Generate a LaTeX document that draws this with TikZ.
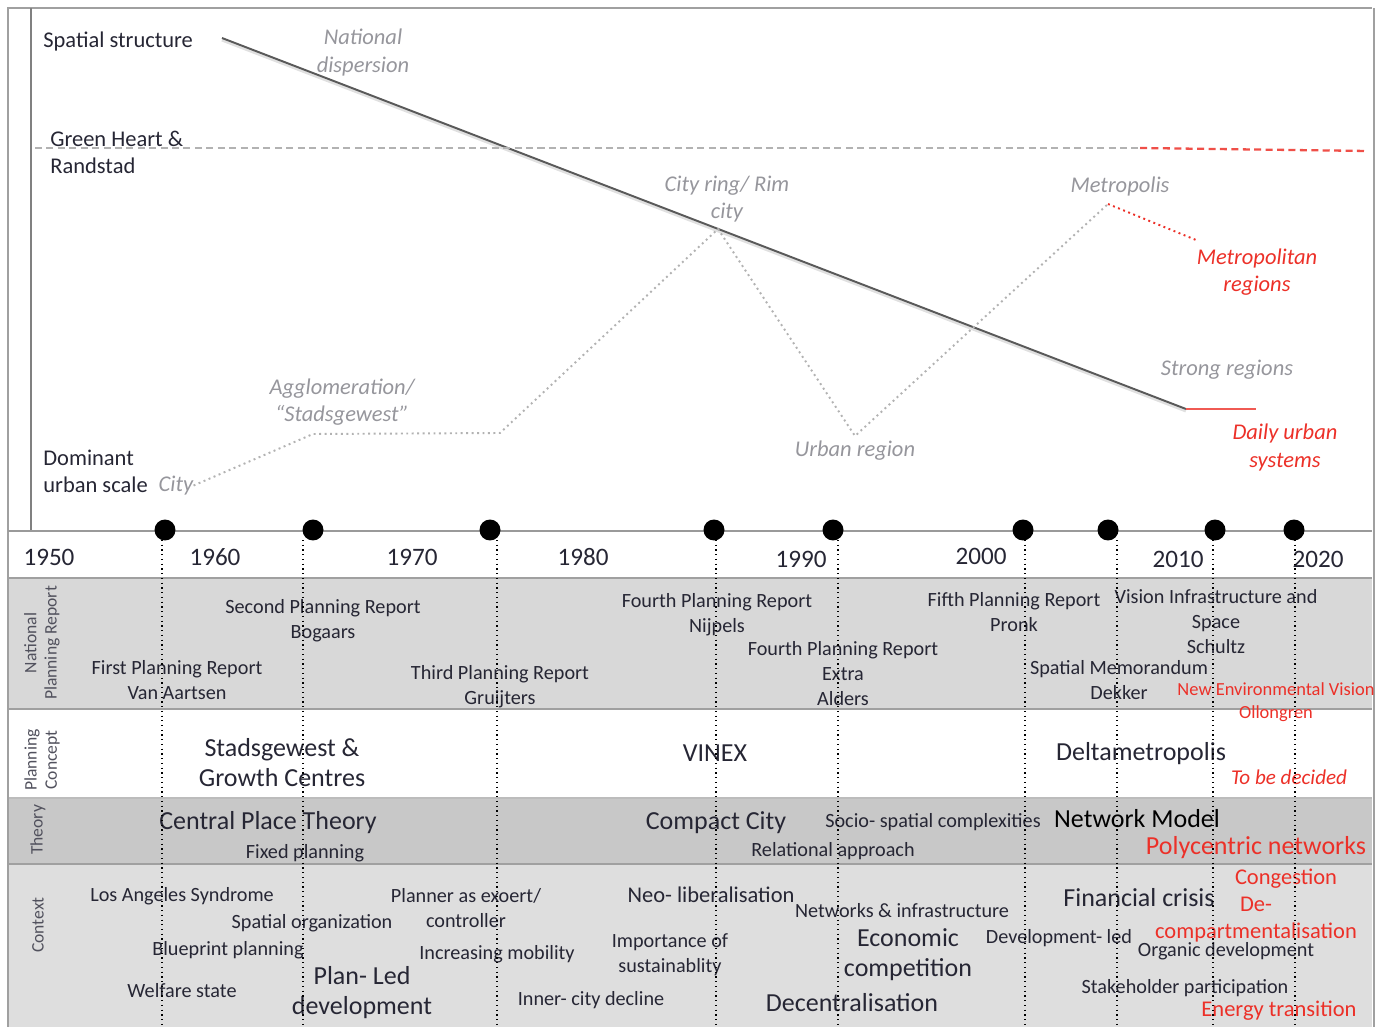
\documentclass[tikz,border=0pt]{standalone}
\usepackage{fontspec}
\setmainfont{Carlito}
\usetikzlibrary{positioning}
\definecolor{txt}{RGB}{38,38,52}
\definecolor{lgray}{RGB}{150,150,156}
\definecolor{rtxt}{RGB}{236,48,40}
\definecolor{bandA}{RGB}{216,216,216}
\definecolor{bandB}{RGB}{200,200,200}
\definecolor{bandC}{RGB}{222,222,222}
\definecolor{edge}{RGB}{160,160,160}
\definecolor{axis}{RGB}{128,128,128}

\begin{document}
\begin{tikzpicture}[x=0.02cm, y=-0.02cm,
    sm/.style = {text=txt, font=\fontsize{11.5}{14.2}\selectfont, align=center, inner sep=0pt, yshift=-0.05cm},
    md/.style = {text=txt, font=\fontsize{12.8}{15.4}\selectfont, align=center, inner sep=0pt, yshift=-0.05cm},
    bg/.style = {text=txt, font=\fontsize{14.8}{17}\selectfont, align=center, inner sep=0pt, yshift=-0.05cm},
    it/.style = {text=lgray, font=\fontsize{12.8}{15.4}\selectfont\itshape, align=center, inner sep=0pt, yshift=-0.05cm},
    rd/.style = {text=rtxt},
    yr/.style = {text=txt, font=\fontsize{14.3}{16}\selectfont, inner sep=0pt},
    side/.style = {text=txt!80, font=\fontsize{10}{11.5}\selectfont, align=center, rotate=90, inner sep=0pt},
    dot/.style = {circle, fill=black, minimum size=0.42cm, inner sep=0pt},
    tl/.style = {black, dotted, line width=0.7pt},
    trend/.style = {draw=black!65, line width=1.1pt},
    scale line/.style = {draw=black!30, dotted, line width=1.1pt}]

    \useasboundingbox (0,0) rectangle (1387,1027);

    % bands
    \fill[bandA] (8,578) rectangle (1372,708);
    \fill[bandB] (8,798) rectangle (1372,863);
    \fill[bandC] (8,865) rectangle (1372,1027);
    \draw[edge, line width=1pt] (8,578) -- (1372,578);
    \draw[edge, line width=1.2pt] (8,709) -- (1372,709);
    \draw[edge!70, line width=0.6pt] (8,798) -- (1372,798);
    \draw[edge, line width=1.2pt] (8,864) -- (1372,864);

    % frame and axes
    \draw[edge, line width=0.8pt] (8,1027) -- (8,8) -- (1372,8);
    \draw[edge, line width=1.6pt] (1374,8) -- (1374,1027);
    \draw[axis, line width=1.2pt] (31,8) -- (31,530);
    \draw[axis!80, line width=1.6pt] (8,531) -- (1372,531);

    % chart labels
    \node[md, anchor=west] (sps) at (43,39) {Spatial structure};
    \node[md, anchor=west, align=left] (ghr) at (50,150) {Green Heart \&\\Randstad};
    \node[md, anchor=west, align=left] (dom) at (43,469) {Dominant\\urban scale};
    \node[it] (natd) at (363,50) {National\\dispersion};
    \node[it] (crr) at (727,197) {City ring/ Rim\\city};
    \node[it] (metro) at (1120,184) {Metropolis};
    \node[it, rd] (metreg) at (1257,270) {Metropolitan\\regions};
    \node[it] (strong) at (1227,367) {Strong regions};
    \node[it, rd] (daily) at (1285,445) {Daily urban\\systems};
    \node[it] (urb) at (855,448) {Urban region};
    \node[it] (agg) at (342,400) {Agglomeration/\\“Stadsgewest”};
    \node[it] (city) at (176,483) {City};

    % spatial structure trend
    \coordinate (s0) at (222,38);
    \coordinate (s1) at (1186,409);
    \coordinate (s2) at (1256,409);
    \draw[black!12, line width=2pt] ([yshift=-1pt]s0) -- ([yshift=-1pt]s1);
    \draw[trend] (s0) -- (s1);
    \draw[rtxt!80, line width=1.6pt] (s1) -- (s2);

    \coordinate (g0) at (35,148);
    \coordinate (g1) at (1140,148);
    \coordinate (g2) at (1368,151);
    \draw[black!30, dash pattern=on 4pt off 2.5pt, line width=1.3pt] (g0) -- (g1);
    \draw[rtxt!85, dash pattern=on 4pt off 2.5pt, line width=1.3pt] (g1) -- (g2);

    % dominant urban scale
    \coordinate (u1) at (313,434);
    \coordinate (u2) at (500,433);
    \coordinate (u3) at (718,229);
    \coordinate (u4) at (855,436);
    \coordinate (u5) at (1108,204);
    \coordinate (u6) at (1196,240);
    \draw[scale line] (city.east) -- (u1) -- (u2) -- (u3) -- (u4) -- (u5);
    \draw[scale line, draw=rtxt] (u5) -- (u6);

    % years
    \node[yr] (y1950) at (49,557) {1950};
    \node[yr] (y1960) at (215,557) {1960};
    \node[yr] (y1970) at (412,557) {1970};
    \node[yr] (y1980) at (583,557) {1980};
    \node[yr] (y1990) at (801,559) {1990};
    \node[yr] (y2000) at (981,556) {2000};
    \node[yr] (y2010) at (1178,559) {2010};
    \node[yr] (y2020) at (1318,559) {2020};

    % row labels
    \node[side] (lnpr) at (42,643) {National\\Planning Report};
    \node[side] (lcon) at (42,760) {Planning\\Concept};
    \node[side] (lthe) at (38,830) {Theory};
    \node[side] (lctx) at (38,925) {Context};

    % national planning reports
    \node[sm] (npr1) at (177,678) {First Planning Report\\Van Aartsen};
    \node[sm] (npr2) at (323,618) {Second Planning Report\\Bogaars};
    \node[sm] (npr3) at (500,684) {Third Planning Report\\Gruijters};
    \node[sm] (npr4) at (717,612) {Fourth Planning Report\\Nijpels};
    \node[sm] (npr4x) at (843,671) {Fourth Planning Report\\Extra\\Alders};
    \node[sm] (npr5) at (1014,610) {Fifth Planning Report\\Pronk};
    \node[sm] (vis) at (1216,619) {Vision Infrastructure and\\Space\\Schultz};
    \node[sm] (mem) at (1119,678) {Spatial Memorandum\\Dekker};
    \node[sm, rd, font=\fontsize{10.5}{13}\selectfont] (nev) at (1276,700) {New Environmental Vision\\Ollongren};

    % planning concepts
    \node[bg] (stg) at (282,760) {Stadsgewest \&\\Growth Centres};
    \node[bg] (vinex) at (715,751) {VINEX};
    \node[bg] (delta) at (1141,751) {Deltametropolis};
    \node[sm, rd, font=\fontsize{12}{14}\selectfont\itshape] (tbd) at (1289,775) {To be decided};

    % theory
    \node[bg] (cpt) at (268,820) {Central Place Theory};
    \node[sm] (fix) at (305,851) {Fixed planning};
    \node[bg] (cc) at (716,820) {Compact City};
    \node[sm] (soc) at (933,820) {Socio- spatial complexities};
    \node[sm] (rel) at (833,849) {Relational approach};
    \node[bg, text=black] (net) at (1137,816) {Network Model};
    \node[bg, rd] (poly) at (1256,845) {Polycentric networks};

    % context
    \node[sm] (las) at (182,894) {Los Angeles Syndrome};
    \node[sm] (sporg) at (312,921) {Spatial organization};
    \node[sm] (blue) at (228,948) {Blueprint planning};
    \node[sm] (welf) at (182,988) {Welfare state};
    \node[bg] (pld) at (362,990) {Plan- Led\\development};
    \node[sm] (plan) at (466,906) {Planner as exoert/\\controller};
    \node[sm] (mob) at (497,952) {Increasing mobility};
    \node[sm] (inner) at (591,998) {Inner- city decline};
    \node[md] (neo) at (711,892) {Neo- liberalisation};
    \node[sm] (imp) at (670,952) {Importance of\\sustainablity};
    \node[sm] (netw) at (902,908) {Networks \& infrastructure};
    \node[bg] (eco) at (908,952) {Economic\\competition};
    \node[bg] (dec) at (852,1000) {Decentralisation};
    \node[sm] (devled) at (1059,936) {Development- led};
    \node[bg] (fin) at (1139,895) {Financial crisis};
    \node[md, rd] (cong) at (1286,876) {Congestion};
    \node[md, rd, font=\fontsize{12.8}{15.6}\selectfont] (decomp) at (1256,917) {De-\\compartmentalisation};
    \node[sm] (org) at (1226,949) {Organic development};
    \node[sm] (stake) at (1185,986) {Stakeholder participation};
    \node[md, rd] (energy) at (1279,1008) {Energy transition};

    % time markers
    \coordinate (v1) at (162,540);  \coordinate (w1) at (162,1027);
    \coordinate (v2) at (303,540);  \coordinate (w2) at (303,1027);
    \coordinate (v3) at (497,540);  \coordinate (w3) at (497,1027);
    \coordinate (v4) at (716,540);  \coordinate (w4) at (716,1027);
    \coordinate (v5) at (838,540);  \coordinate (w5) at (838,1027);
    \coordinate (v6) at (1025,540); \coordinate (w6) at (1025,1027);
    \coordinate (v7) at (1117,540); \coordinate (w7) at (1117,1027);
    \coordinate (v8) at (1213,540); \coordinate (w8) at (1213,1027);
    \coordinate (v9) at (1295,540); \coordinate (w9) at (1295,1027);
    \draw[tl] (v1) -- (w1);
    \draw[tl] (v2) -- (w2);
    \draw[tl] (v3) -- (w3);
    \draw[tl] (v4) -- (w4);
    \draw[tl] (v5) -- (w5);
    \draw[tl] (v6) -- (w6);
    \draw[tl] (v7) -- (w7);
    \draw[tl] (v8) -- (w8);
    \draw[tl] (v9) -- (w9);

    \node[dot] (t1) at (165,530) {};
    \node[dot] (t2) at (313,530) {};
    \node[dot] (t3) at (490,530) {};
    \node[dot] (t4) at (714,530) {};
    \node[dot] (t5) at (833,530) {};
    \node[dot] (t6) at (1023,530) {};
    \node[dot] (t7) at (1108,530) {};
    \node[dot] (t8) at (1215,530) {};
    \node[dot] (t9) at (1294,530) {};

\end{tikzpicture}
\end{document}
